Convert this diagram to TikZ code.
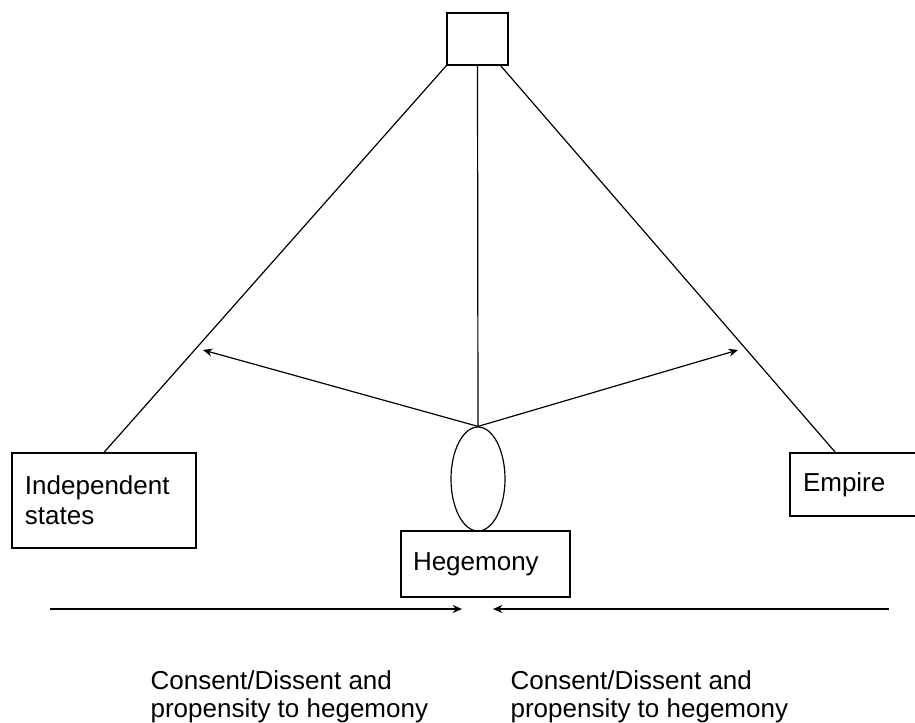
\documentclass[tikz,border=0pt]{standalone}
\usepackage{fontspec}
\setmainfont{Liberation Sans}
\usetikzlibrary{shapes.geometric,arrows.meta}

\begin{document}
\begin{tikzpicture}[
  x=0.75pt, y=-0.75pt, line width=0.9pt,  box/.style={rectangle,draw,inner sep=0pt,font=\fontsize{19.5}{22.5}\selectfont},  tbox/.style={box,align=left,inner xsep=9.75pt},  egg/.style={ellipse,draw,inner sep=0pt,minimum width=40.5pt,minimum height=78pt},  lbl/.style={align=left,inner sep=0pt,font=\fontsize{19.5}{21}\selectfont},  arr/.style={-{Stealth[length=7pt,width=6pt]}}
]
  \useasboundingbox (0,0) rectangle (915,722);
  \clip (0,0) rectangle (915,722);
  \node[box,minimum width=45.75pt,minimum height=39pt] (top) at (477.5,39) {};
  \node[tbox,minimum width=138pt,minimum height=71.25pt,text width=118.5pt] (indep) at (104,500.5) {Independent\\states};
  \node[tbox,minimum width=112.5pt,minimum height=47.25pt,text width=93pt] (emp) at (865,484.5) {Empire};
  \node[tbox,minimum width=126.75pt,minimum height=49.5pt,inner xsep=9pt,text width=108.75pt] (heg) at (485.5,564) {Hegemony};
  \node[egg] (ell) at (478,479) {};
  \coordinate (pl) at (203,350);
  \coordinate (pr) at (738,350);
  \coordinate (al) at (50,609);
  \coordinate (ml) at (462,609);
  \coordinate (ar) at (889,609);
  \coordinate (mr) at (493,609);
  \node[lbl,anchor=north west] (c1) at (150,670) {Consent/Dissent and\\propensity to hegemony};
  \node[lbl,anchor=north west] (c2) at (510,670) {Consent/Dissent and\\propensity to hegemony};
  \draw (top.south west) -- (indep.north);
  \draw (top.south) -- (ell.north);
  \draw ([xshift=-6pt]top.south east) -- ([xshift=34.5pt]emp.north west);
  \draw[arr] (ell.north) -- (pl);
  \draw[arr] (ell.north) -- (pr);
  \draw[arr] (al) -- (ml);
  \draw[arr] (ar) -- (mr);
\end{tikzpicture}
\end{document}
